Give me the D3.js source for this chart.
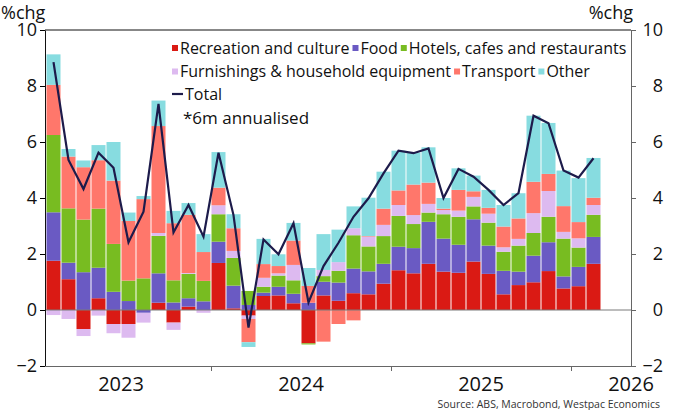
<!DOCTYPE html>
<html>
<head>
<meta charset="utf-8">
<script src="https://cdn.jsdelivr.net/npm/d3@7"></script>
<style>
  body { margin: 0; background: #fff; }
  text { font-family: "Open Sans", sans-serif; fill: #111; }
</style>
</head>
<body>
<div id="chart"></div>
<script>
// Data (6m annualised contributions, ppts)
//= ================================
var seriesNames = ["Recreation and culture", "Food", "Hotels, cafes and restaurants",
    "Furnishings & household equipment", "Transport", "Other"];
var seriesColors = ["#da1a14", "#6a5ac3", "#78bc21", "#ddbaf0", "#ff776b", "#87dce0"];

// one bar per month, Feb 2023 .. Feb 2026
var months = d3.timeMonth.range(new Date(2023, 1, 1), new Date(2026, 2, 1));

var recreation = [1.76, 1.10, -0.68, 0.42, -0.50, -0.50, 0, 0.26, -0.45, 0.12, 0, 1.68, 0.06, -0.20, 0.50, 0.52, 0.24, -1.19, 0.52,
    0.33, 0.60, 0.56, 0.94, 1.42, 1.31, 1.65, 1.37, 1.33, 1.73, 1.29, 0.56, 0.89, 0.99, 1.39, 0.77, 0.85, 1.65];
var food = [1.73, 0.59, 1.35, 1.09, 0.65, 0.32, -0.10, 1.05, 0.27, 0.30, 0.31, 0.76, 0.81, 0.18, 0.12, 0.31, 0.34, 0.26, 0.49,
    0.65, 0.88, 0.82, 0.71, 0.84, 0.90, 1.50, 1.18, 1.00, 1.51, 1.01, 0.84, 0.48, 0.95, 1.03, 0.43, 0.69, 0.96];
var hotels = [2.76, 1.94, 1.88, 2.11, 1.71, 0.73, 1.13, 1.34, 0.79, 0.87, 0.73, 0.98, 0.99, 0.50, 0.21, 0.40, 0.48, -0.04, 0.20,
    0.42, 1.19, 0.89, 0.99, 1.10, 0.86, 0.33, 0.87, 1.00, 0.46, 0.82, 0.68, 0.93, 0.81, 0.91, 1.35, 0.69, 0.79];
var furnishings = [-0.18, -0.32, -0.25, -0.20, -0.33, -0.49, -0.35, 0.10, -0.26, 0.03, -0.10, 0.32, 0.25, -0.12, 0.32, 0.08, 0.55, 0, 0.22,
    0.31, 0.25, 0.35, 0.40, 0.39, 0.32, 0.31, 0.15, 0.22, 0.34, 0.32, 0.16, 0.24, 0.71, 0.92, 0.24, 0.33, 0.35];
var transport = [1.79, 1.85, 1.87, 1.73, 2.26, 2.13, 2.83, 3.82, 2.04, 2.08, 1.03, 0.63, 0.81, -0.83, 0.49, 0.26, 0.87, 0.60, -1.13,
    -0.50, -0.37, 0.02, 0.58, 0.52, 1.09, 0.76, 0.05, 0.74, 0.20, 0.21, 0.74, 0.73, 1.12, 0.61, 0.92, 0.58, 0.26];
var other = [1.09, 0.27, 0.24, 0.54, 1.38, 0.30, 0.11, 0.91, 0.44, 0.42, 0.64, 1.27, 0.50, -0.17, 0.90, 0.42, 0.63, 0.64, 1.28,
    1.16, 0.78, 1.37, 1.32, 1.42, 1.14, 1.26, 0.38, 0.77, 0.56, 0.64, 0.77, 0.90, 2.36, 1.82, 1.27, 1.57, 1.42];
var total = [8.85, 5.36, 4.32, 5.62, 5.08, 2.42, 3.51, 7.36, 2.77, 3.75, 2.62, 5.62, 3.39, -0.63, 2.52, 1.99, 3.10, 0.27, 1.57,
    2.40, 3.33, 3.99, 4.88, 5.69, 5.60, 5.77, 4.00, 5.04, 4.76, 4.29, 3.75, 4.17, 6.94, 6.67, 4.98, 4.73, 5.42];

var yTicks = [-2, 0, 2, 4, 6, 8, 10];
var years = [2023, 2024, 2025, 2026];

// Setup the chart
//= ================================
var svgWidth = 676;
var svgHeight = 410;

var margin = { top: 30, right: 45, bottom: 44, left: 45 };
var width = svgWidth - margin.left - margin.right;
var height = svgHeight - margin.top - margin.bottom;

var svg = d3.select("#chart")
    .append("svg")
    .attr("width", svgWidth)
    .attr("height", svgHeight);

var chartGroup = svg.append("g")
    .attr("transform", `translate(${margin.left}, ${margin.top})`);

// months counted from Jan 2023
function monthIndex(d) {
    return (d.getFullYear() - 2023) * 12 + d.getMonth();
}

var xScale = d3.scaleLinear()
    .domain([14 / 15, 40])
    .range([0, width]);

var yScale = d3.scaleLinear()
    .domain([-2, 10])
    .range([height, 0]);

// Stack the components (negatives stack downward)
var keys = ["recreation", "food", "hotels", "furnishings", "transport", "other"];
var table = months.map(function (d, i) {
    return {
        date: d,
        recreation: recreation[i],
        food: food[i],
        hotels: hotels[i],
        furnishings: furnishings[i],
        transport: transport[i],
        other: other[i]
    };
});

var stacked = d3.stack()
    .keys(keys)
    .offset(d3.stackOffsetDiverging)(table);

var layers = chartGroup.selectAll(".layer")
    .data(stacked)
    .enter()
    .append("g")
    .attr("fill", (d, i) => seriesColors[i]);

layers.selectAll("rect")
    .data(d => d)
    .enter()
    .append("rect")
    .attr("x", d => xScale(monthIndex(d.data.date)) + 0.5)
    .attr("width", d => xScale(monthIndex(d.data.date) + 1) - xScale(monthIndex(d.data.date)) - 1)
    .attr("y", d => yScale(Math.max(d[0], d[1])))
    .attr("height", d => Math.abs(yScale(d[0]) - yScale(d[1])));

// zero line
chartGroup.append("line")
    .attr("x1", 0)
    .attr("x2", width)
    .attr("y1", yScale(0))
    .attr("y2", yScale(0))
    .attr("stroke", "#7a7a7a")
    .attr("stroke-width", 1);

// Total line
var totalLine = d3.line()
    .x((d, i) => xScale(monthIndex(months[i]) + 0.5))
    .y(d => yScale(d));

chartGroup.append("path")
    .datum(total)
    .attr("fill", "none")
    .attr("stroke", "#1d1b4b")
    .attr("stroke-width", 2.2)
    .attr("stroke-linejoin", "miter")
    .attr("d", totalLine);

// Axes
var leftAxis = d3.axisLeft(yScale).tickValues(yTicks).tickSize(5).tickSizeOuter(0).tickPadding(3);
var rightAxis = d3.axisRight(yScale).tickValues(yTicks).tickSize(5).tickSizeOuter(0);
var bottomAxis = d3.axisBottom(xScale).tickValues([12, 24, 36]).tickSize(5).tickSizeOuter(0).tickFormat("");

var yAxisL = chartGroup.append("g").call(leftAxis);
yAxisL.selectAll("text").attr("font-size", "18px").style("font-family", "'Open Sans', sans-serif");
yAxisL.select(".domain").attr("stroke", "#111");

var yAxisR = chartGroup.append("g")
    .attr("transform", `translate(${width}, 0)`)
    .call(rightAxis);
yAxisR.selectAll("text")
    .attr("font-size", "18px")
    .attr("text-anchor", "end")
    .attr("x", 32)
    .style("font-family", "'Open Sans', sans-serif");
yAxisR.selectAll("line, .domain").attr("stroke", "#666");

var xAxis = chartGroup.append("g")
    .attr("transform", `translate(0, ${height})`)
    .call(bottomAxis);
xAxis.selectAll("line, .domain").attr("stroke", "#666");

// top border
chartGroup.append("line")
    .attr("x1", 0).attr("x2", width)
    .attr("y1", 0).attr("y2", 0)
    .attr("stroke", "#111");

// Year labels, centred on each year (kept inside the axis)
chartGroup.selectAll(".year")
    .data(years)
    .enter()
    .append("text")
    .attr("x", d => Math.min(xScale((d - 2023) * 12 + 6), width))
    .attr("y", height + 25)
    .attr("text-anchor", "middle")
    .attr("font-size", "20px")
    .text(d => d);

// Axis titles
svg.append("text").attr("x", 1).attr("y", 19).attr("font-size", "18px").text("%chg");
svg.append("text").attr("x", 633).attr("y", 19).attr("text-anchor", "end").attr("font-size", "18px").text("%chg");

// Legend
var legendRows = [[0, 1, 2], [3, 4, 5]];
legendRows.forEach(function (row, r) {
    var lx = 172;
    var ly = 48 + r * 23.5;
    row.forEach(function (k) {
        svg.append("rect")
            .attr("x", lx).attr("y", ly - 3)
            .attr("width", 6).attr("height", 6)
            .attr("fill", seriesColors[k]);
        var t = svg.append("text")
            .attr("x", lx + 8).attr("y", ly + 5.5)
            .attr("font-size", "16px")
            .text(seriesNames[k]);
        lx += 8 + t.node().getComputedTextLength() + 3;
    });
});

svg.append("line")
    .attr("x1", 172).attr("x2", 183)
    .attr("y1", 94).attr("y2", 94)
    .attr("stroke", "#1d1b4b").attr("stroke-width", 2.2);
svg.append("text").attr("x", 185).attr("y", 99.5).attr("font-size", "16px").text("Total");
svg.append("text").attr("x", 183).attr("y", 124).attr("font-size", "17px").text("*6m annualised");

// Source
svg.append("text")
    .attr("x", 660).attr("y", 408)
    .attr("text-anchor", "end")
    .attr("font-size", "10.5px")
    .style("fill", "#333")
    .text("Source: ABS, Macrobond, Westpac Economics");
</script>
</body>
</html>
